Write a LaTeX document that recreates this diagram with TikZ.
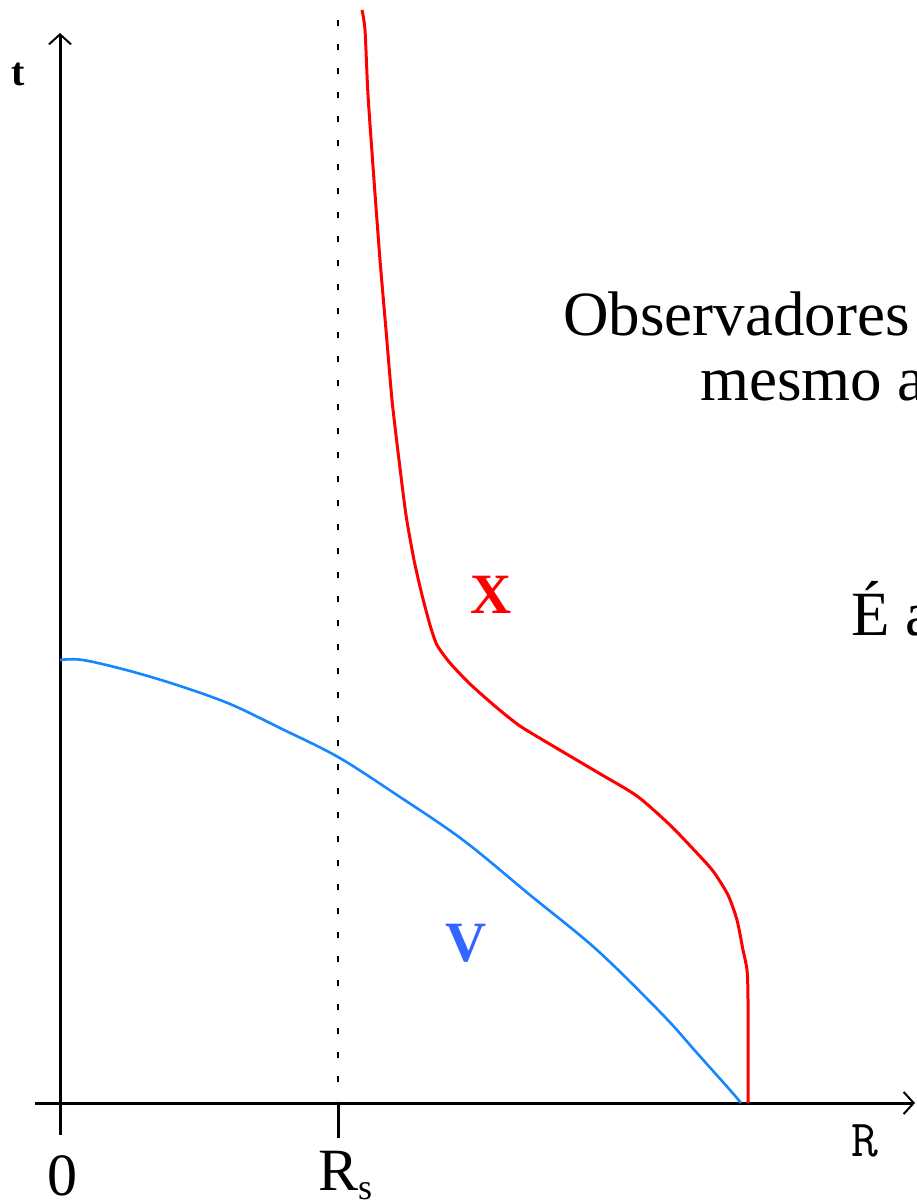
\documentclass[tikz,border=0pt]{standalone}
\usepackage{fontspec}
\setmainfont{Liberation Serif}
\usetikzlibrary{arrows.meta}
\definecolor{curvered}{RGB}{255,0,0}
\definecolor{curveblue}{RGB}{20,134,255}
\definecolor{labelblue}{RGB}{51,102,255}
\tikzset{
  axis/.style={line width=3pt, black},
  tip/.style={-{Straight Barb[length=10pt,width=22pt,line width=2pt]}},
  tick/.style={line width=3pt, black},
  guide/.style={line width=2.7pt, dash pattern=on 6pt off 18pt, black},
  redcurve/.style={line width=3pt, curvered, line join=round},
  bluecurve/.style={line width=2.6pt, curveblue, line join=round},
  bigtext/.style={inner sep=0pt, anchor=base west, font=\fontsize{63}{67}\selectfont},
  axlabel/.style={inner sep=0pt, anchor=base, font=\fontsize{60}{60}\selectfont},
  curvelabel/.style={inner sep=0pt, anchor=base, font=\fontsize{57}{57}\selectfont\bfseries},
}
\begin{document}
\begin{tikzpicture}[x=1pt,y=-1pt]
\useasboundingbox (0,0) rectangle (916,1204);
\clip (0,0) rectangle (916,1204);
% named points
\coordinate (ybot) at (60,1135);
\coordinate (ytop) at (60,33);
\coordinate (xleft) at (35,1103);
\coordinate (xright) at (915,1103);
\coordinate (rsaxis) at (338,1103);
\coordinate (rstick) at (338,1138);
\coordinate (rstop) at (338,20);
\coordinate (rsbot) at (338,1100);
% axes
\draw[axis,tip] (ybot) -- (ytop);
\draw[axis,tip] (xleft) -- (xright);
\draw[tick] (rsaxis) -- (rstick);
\draw[guide] (rstop) -- (rsbot);
% curves
\draw[bluecurve] plot[smooth, tension=0.55] coordinates {
 (60,660) (83,660) (130,671) (180,686) (230,704) (280,728) (338,757)
 (397,795) (463,840) (530,895) (597,950) (663,1015) (697,1053) (730,1090) (741,1103)};
\draw[redcurve] plot[smooth, tension=0.4] coordinates {
 (362,10) (365,30) (368,95) (374,180) (380,260) (386,330) (392,400)
 (399,460) (406,515) (414,560) (422,595) (430,625) (437,645)
 (450,663) (470,684) (496,707) (520,726) (553,746) (597,772)
 (637,796) (670,825) (695,851) (713,871) (728,895) (737,920) (743,950) (747,970)
 (748,1000) (748,1103)};
% labels
\node[inner sep=0pt, anchor=base, font=\fontsize{40}{40}\selectfont\bfseries] (tlab) at (18,86) {t};
\node[axlabel] (zero) at (62,1195) {0};
\node[inner sep=0pt, anchor=base west, font=\fontsize{60}{60}\selectfont] (rslab) at (318,1190) {R\raisebox{-9pt}{\fontsize{36}{36}\selectfont s}};
\node[inner sep=0pt, anchor=base, font=\ttfamily\fontsize{52}{52}\selectfont] (rlab) at (865,1156) {R};
\node[curvelabel, text=curvered] (xlab) at (491,613) {X};
\node[curvelabel, text=labelblue] (vlab) at (466,961) {V};
% text
\node[bigtext] (line1) at (563,335) {Observadores};
\node[bigtext] (line2) at (700,400) {mesmo a};
\node[bigtext] (line3) at (851,635) {É a};
\end{tikzpicture}
\end{document}
